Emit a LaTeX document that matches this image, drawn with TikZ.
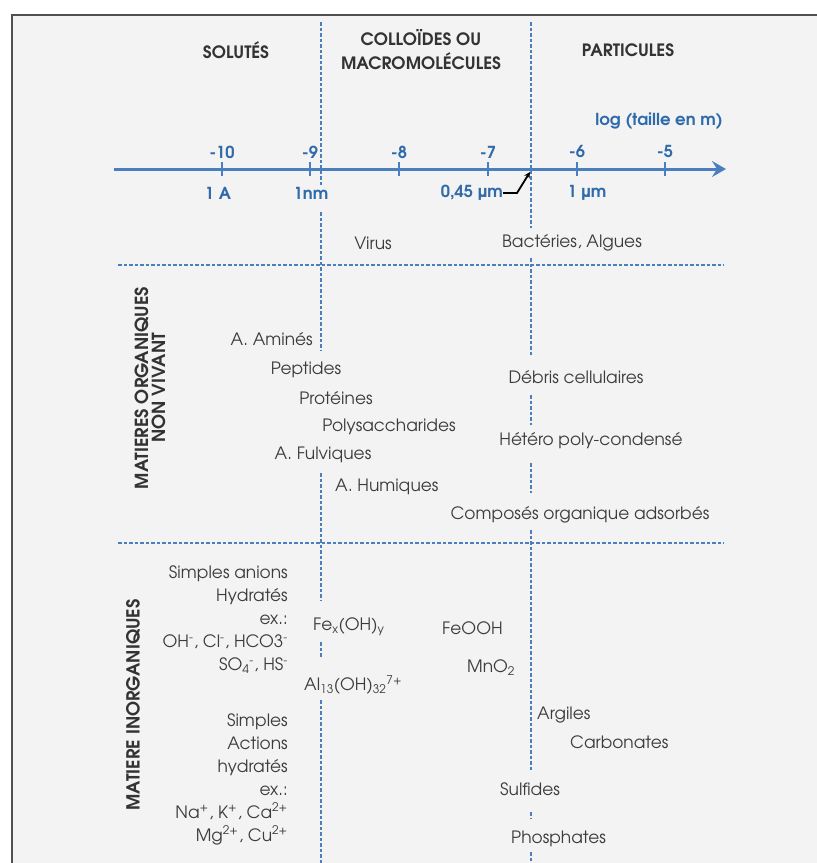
\documentclass[tikz,border=0pt]{standalone}
\usepackage{fontspec}
\setmainfont{texgyreadventor}[Extension=.otf,UprightFont=*-regular,BoldFont=*-bold,ItalicFont=*-italic,BoldItalicFont=*-bolditalic]
\usetikzlibrary{arrows.meta}
\definecolor{axisblue}{HTML}{4A7EBF}
\definecolor{labelblue}{HTML}{2F6AAA}
\definecolor{txtgray}{HTML}{3C3C3C}
\definecolor{bggray}{HTML}{F3F3F3}
\definecolor{framegray}{HTML}{505050}

\begin{document}
\begin{tikzpicture}[x=1pt,y=-1pt,
    every node/.style={inner sep=0pt,text=txtgray,font=\fontsize{17}{23}\selectfont},
    header/.style={font=\bfseries\fontsize{17}{24}\selectfont,text=black!80,align=center},
    sidetitle/.style={font=\bfseries\fontsize{18}{17}\selectfont,text=black!80,align=center,rotate=90},
    bluelbl/.style={text=labelblue,font=\bfseries\fontsize{16.5}{18}\selectfont},
    sep/.style={axisblue,line width=1.2pt,dash pattern=on 3.5pt off 2pt},
    tickmark/.style={axisblue,line width=2.5pt}]
    \useasboundingbox (0,0) rectangle (817,863);
    \fill [white] (0,0) rectangle (817,863);
    \fill [bggray] (12,15) rectangle (817,863);
    \draw [framegray,line width=1.5pt] (12,863) -- (12,15) -- (817,15);
    % separators
    \draw [sep] (321,22) -- (321,185);
    \draw [sep] (321,212) -- (321,350);
    \draw [sep] (321,473) -- (321,600);
    \draw [sep] (321,642) -- (321,658);
    \draw [sep] (321,700) -- (321,863);
    \draw [sep] (531,22) -- (531,228);
    \draw [sep] (531,258) -- (531,355);
    \draw [sep] (531,395) -- (531,425);
    \draw [sep] (531,463) -- (531,493);
    \draw [sep] (531,530) -- (531,770);
    \draw [sep] (531,812) -- (531,818);
    \draw [sep] (531,852) -- (531,863);
    \draw [sep] (118,265) -- (724,265);
    \draw [sep] (118,543) -- (724,543);
    % axe
    \draw [axisblue,line width=3pt,-{Stealth[length=14pt,width=16pt,inset=5pt]}] (114,169) -- (726,169);
    \foreach \x/\v in {222/-10,310/-9,399/-8,488/-7,577/-6,665/-5} {
        \draw [tickmark] (\x,162) -- (\x,176);
        \node [bluelbl] (t\x) at (\x,152) {\v};
    }
    \node [bluelbl] (unA) at (218,193) {1 A};
    \node [bluelbl] (unnm) at (311,193) {1nm};
    \node [bluelbl,anchor=east] (filtre) at (503,193) {0,45 µm};
    \node [bluelbl] (unum) at (587,193) {1 µm};
    \node [bluelbl,anchor=east] (logt) at (723,121) {log (taille en m)};
    \coordinate (seuil) at (530,172);
    \draw [black,line width=1.8pt,-{Stealth[length=6pt,width=6pt]}] (filtre.east) -- ++(14,0) -- (seuil);
    % titres
    \node [header] (solutes) at (236,50) {SOLUTÉS};
    \node [header] (colloides) at (421,50) {COLLOÏDES OU\\MACROMOLÉCULES};
    \node [header] (particules) at (628,50) {PARTICULES};
    \node [sidetitle] (orga) at (150,388) {MATIERES ORGANIQUES\\NON VIVANT};
    \node [sidetitle] (inorga) at (133,705) {MATIERE INORGANIQUES};
    % vivant
    \node (virus) at (373,243) {Virus};
    \node (bacteries) at (572,243) {Bactéries, Algues};
    % organique
    \node [anchor=east] (amines) at (313,339) {A. Aminés};
    \node (peptides) at (306,370) {Peptides};
    \node (proteines) at (336,398) {Protéines};
    \node (polysacc) at (389,427) {Polysaccharides};
    \node (fulviques) at (323,455) {A. Fulviques};
    \node [anchor=west] (humiques) at (335,487) {A. Humiques};
    \node (debris) at (576,377) {Débris cellulaires};
    \node (hetero) at (591,441) {Hétéro poly-condensé};
    \node (composes) at (580,515) {Composés organique adsorbés};
    % inorganique
    \node [anchor=east,align=right] (anions) at (288,620) {Simples anions\\Hydratés\\ex.:\\OH\textsuperscript{-}, Cl\textsuperscript{-}, HCO3\textsuperscript{-}\\SO\textsubscript{4}\textsuperscript{-}, HS\textsuperscript{-}};
    \node [anchor=east,align=right] (cations) at (288,779) {Simples\\Actions\\hydratés\\ex.:\\Na\textsuperscript{+}, K\textsuperscript{+}, Ca\textsuperscript{2+}\\Mg\textsuperscript{2+}, Cu\textsuperscript{2+}};
    \node [anchor=west] (feoh) at (313,627) {Fe\textsubscript{x}(OH)\textsubscript{y}};
    \node [anchor=west] (feooh) at (442,628) {FeOOH};
    \node [anchor=west] (mno) at (467,668) {MnO\textsubscript{2}};
    \node [anchor=west] (aloh) at (304,685) {Al\textsubscript{13}(OH)\textsubscript{32}\textsuperscript{7+}};
    \node [anchor=west] (argiles) at (537,715) {Argiles};
    \node [anchor=west] (carbonates) at (570,742) {Carbonates};
    \node [anchor=west] (sulfides) at (500,789) {Sulfides};
    \node [anchor=west] (phosphates) at (511,839) {Phosphates};
\end{tikzpicture}
\end{document}
